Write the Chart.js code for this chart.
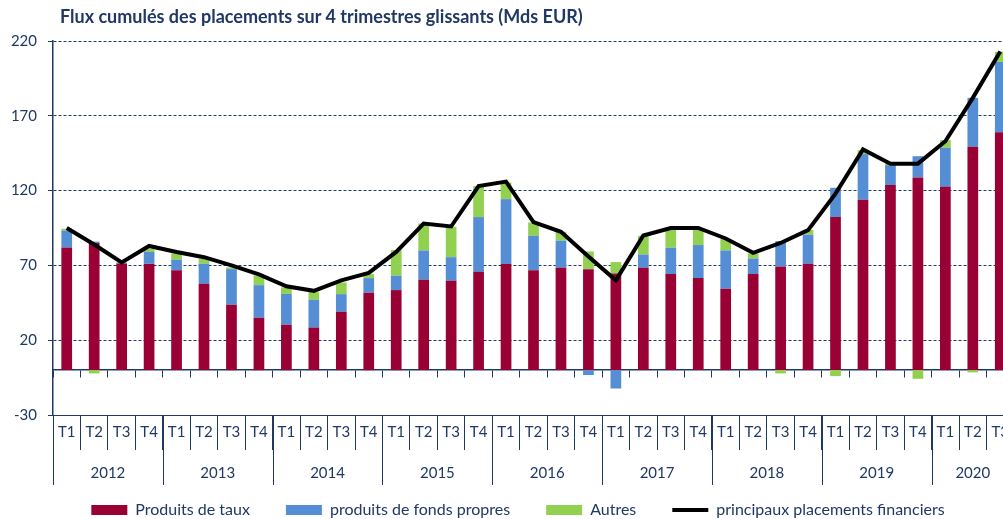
<!DOCTYPE html>
<html>
<head>
<meta charset="utf-8">
<script src="https://cdn.jsdelivr.net/npm/chart.js@4"></script>
<style>
  body { margin: 0; overflow: hidden; background: #fff; }
  #wrap { position: relative; width: 1014px; height: 519px; }
  #title {
    position: absolute; left: 60px; top: 5px;
    font: bold 18px Lato, sans-serif; color: #1f3864;
  }
  canvas { position: absolute; left: 0; top: 0; }
</style>
</head>
<body>
<div id="wrap">
  <canvas id="myChart" width="1014" height="519"></canvas>
  <div id="title">Flux cumulés des placements sur 4 trimestres glissants (Mds EUR)</div>
</div>
<script>
const years = ["2012", "2013", "2014", "2015", "2016", "2017", "2018", "2019", "2020"];
const quarterYears = [
  "2012", "2012", "2012", "2012", "2013", "2013", "2013", "2013",
  "2014", "2014", "2014", "2014", "2015", "2015", "2015", "2015",
  "2016", "2016", "2016", "2016", "2017", "2017", "2017", "2017",
  "2018", "2018", "2018", "2018", "2019", "2019", "2019", "2019",
  "2020", "2020", "2020",
];
const quarters = [
  "T1", "T2", "T3", "T4", "T1", "T2", "T3", "T4",
  "T1", "T2", "T3", "T4", "T1", "T2", "T3", "T4",
  "T1", "T2", "T3", "T4", "T1", "T2", "T3", "T4",
  "T1", "T2", "T3", "T4", "T1", "T2", "T3", "T4",
  "T1", "T2", "T3",
];

const produitsTaux = [
  82, 85, 71.3, 71, 66.8, 57.7, 43.7, 35,
  30.3, 28.5, 39, 51.7, 53.5, 60.4, 59.7, 65.7,
  70.9, 66.8, 68.4, 67.5, 64.6, 68.4, 64.2, 61.5,
  54.4, 64.2, 69.3, 71.1, 102.3, 113.9, 123.7, 128.8,
  122.5, 149.3, 159,
];
const fondsPropres = [
  11.3, 0.9, 0.5, 8, 7, 13.4, 23.8, 21.8,
  20.7, 18.5, 11.8, 9.8, 9.6, 19.6, 15.8, 36.6,
  43.4, 23, 18.1, -3.3, -12.3, 8.9, 17.6, 22.1,
  25.6, 10.4, 16.9, 19.4, 19.6, 30.5, 13.3, 14.2,
  26.1, 32.7, 47,
];
const autres = [
  1.2, -2.2, 0.3, 2.2, 4.2, 3.3, 1.1, 6.5,
  4.3, 5.1, 7.8, 2.7, 17.1, 18, 20.3, 20.7,
  11.1, 8.9, 6, 11.8, 7.6, 12.5, 12.2, 10.4,
  7.6, 3.4, -2.2, 3.1, -4, 2.6, 1.6, -5.8,
  5.1, -1.5, 6.8,
];
const principaux = [
  95, 84, 72, 83, 79, 75.5, 70, 64,
  56, 53, 60, 65, 79, 98, 96, 123,
  126, 99, 92.5, 76, 60, 90, 95, 95,
  88, 78.4, 85, 93.6, 118, 147.5, 138, 138,
  153, 182, 213,
];

const navy = "#1f3864";
const font = { family: "Lato, sans-serif", size: 15 };

// year row under the quarter labels
const yearRow = {
  id: "yearRow",
  afterLayout(chart) {
    // legend in the original sits a bit right of the canvas centre
    chart.legend.left += 11;
    chart.legend.right += 11;
  },
  afterDraw(chart) {
    const x = chart.scales.x;
    const c = chart.ctx;
    const half = (x.getPixelForValue(1) - x.getPixelForValue(0)) / 2;
    const top = chart.chartArea.bottom;
    c.save();
    c.strokeStyle = navy;
    c.lineWidth = 1;
    c.fillStyle = navy;
    c.font = "15px Lato, sans-serif";
    c.textAlign = "center";
    c.textBaseline = "middle";
    years.forEach((y) => {
      const first = quarterYears.indexOf(y);
      const last = quarterYears.lastIndexOf(y);
      const left = x.getPixelForValue(first) - half;
      const right = x.getPixelForValue(last) + half;
      c.beginPath();
      c.moveTo(Math.round(left) + 0.5, top);
      c.lineTo(Math.round(left) + 0.5, top + 70);
      c.stroke();
      c.fillText(y, (left + right) / 2, top + 58);
    });
    c.restore();
  },
};

const ctx = document.getElementById("myChart");

new Chart(ctx, {
  data: {
    labels: quarters,
    datasets: [
      {
        type: "bar",
        label: "Produits de taux",
        data: produitsTaux,
        backgroundColor: "#990033",
        stack: "a",
        order: 1,
        pointStyle: "rect",
      },
      {
        type: "bar",
        label: "produits de fonds propres",
        data: fondsPropres,
        backgroundColor: "#558ed5",
        stack: "a",
        order: 1,
        pointStyle: "rect",
      },
      {
        type: "bar",
        label: "Autres",
        data: autres,
        backgroundColor: "#92d050",
        stack: "a",
        order: 1,
        pointStyle: "rect",
      },
      {
        type: "line",
        label: "principaux placements financiers",
        data: principaux,
        borderColor: "#000",
        backgroundColor: "#000",
        borderWidth: 4,
        pointRadius: 0,
        tension: 0,
        stack: "b",
        order: 0,
        pointStyle: "line",
      },
    ],
  },
  options: {
    responsive: false,
    animation: false,
    datasets: {
      bar: { barPercentage: 0.39, categoryPercentage: 1 },
    },
    layout: { padding: { left: 0, right: 0, top: 41, bottom: 0 } },
    plugins: {
      tooltip: { enabled: false },
      legend: {
        position: "bottom",
        maxHeight: 53,
        labels: {
          usePointStyle: true,
          pointStyleWidth: 36,
          boxHeight: 10,
          padding: 36,
          color: navy,
          font: { family: "Lato, sans-serif", size: 16 },
          sort: (a, b) => a.datasetIndex - b.datasetIndex,
        },
      },
    },
    scales: {
      x: {
        type: "category",
        stacked: true,
        offset: true,
        grid: {
          offset: true,
          drawOnChartArea: false,
          tickLength: 35,
          color: navy,
        },
        border: { display: true, color: navy, width: 1 },
        ticks: { color: navy, font: font, padding: -27, maxRotation: 0, autoSkip: false },
        afterFit(scale) {
          scale.height = 51;
        },
      },
      x2: {
        type: "category",
        position: { y: 0 },
        offset: true,
        grid: {
          offset: true,
          drawOnChartArea: false,
          tickLength: 7,
          color: navy,
        },
        border: { display: true, color: navy, width: 1.5 },
        ticks: { display: false },
      },
      y: {
        stacked: true,
        min: -30,
        max: 220,
        ticks: { stepSize: 50, color: navy, font: font, padding: 11 },
        grid: { color: navy, tickLength: 5, lineWidth: 1 },
        border: { display: true, color: navy, width: 1.5, dash: [3, 2] },
        afterFit(scale) {
          scale.width = 53;
        },
      },
    },
  },
  plugins: [yearRow],
});
</script>
</body>
</html>
